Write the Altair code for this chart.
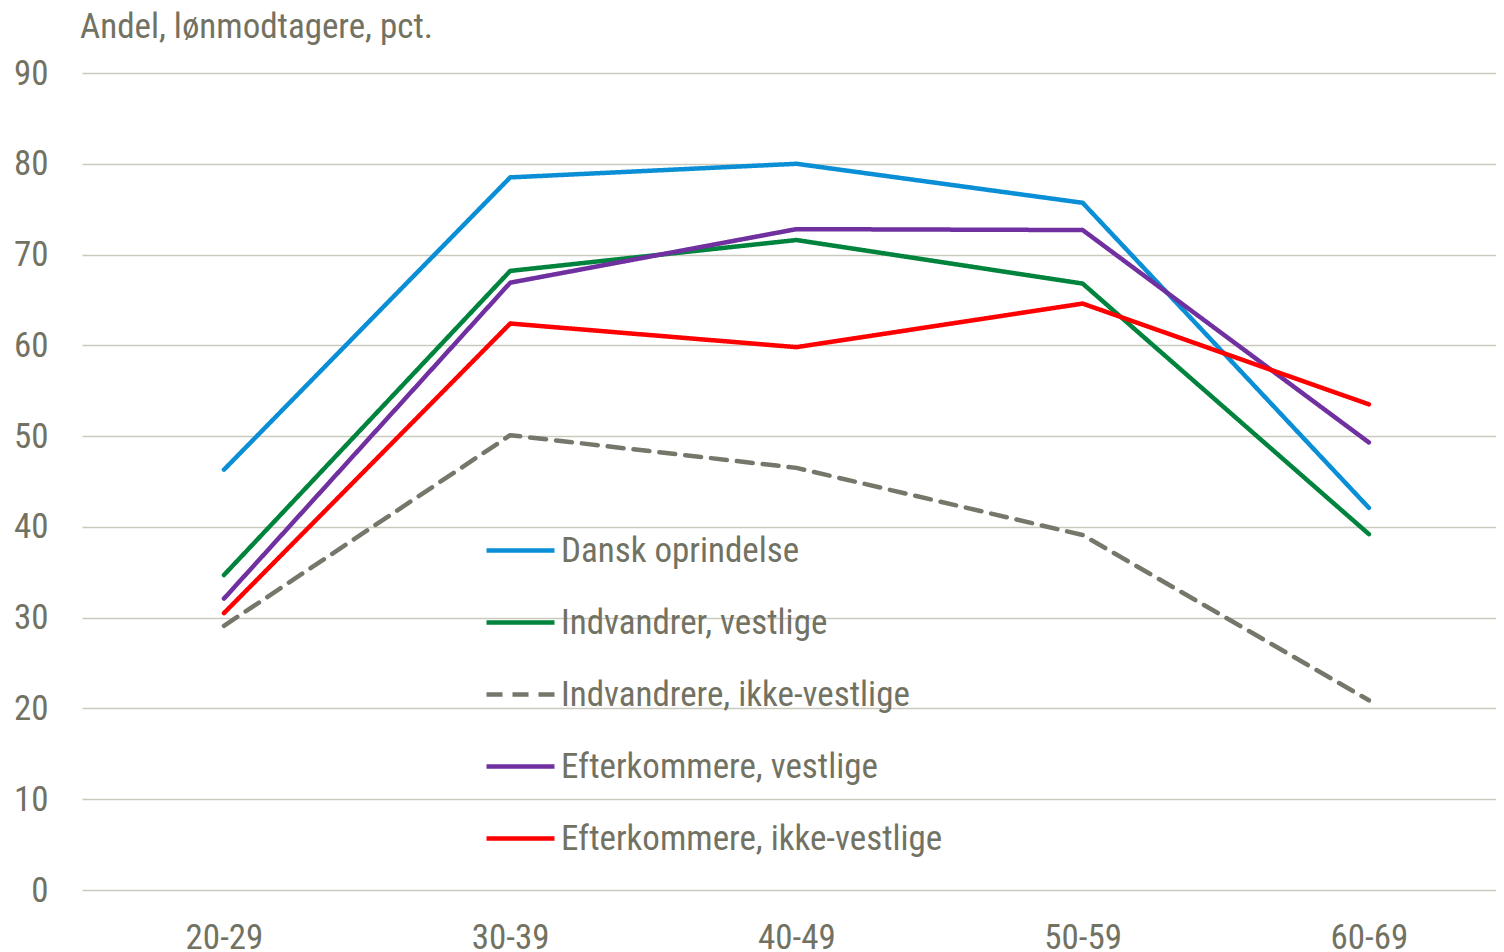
import altair as alt
import pandas as pd

ages = ["20-29", "30-39", "40-49", "50-59", "60-69"]
series = ["Dansk oprindelse", "Indvandrer, vestlige", "Indvandrere, ikke-vestlige",
          "Efterkommere, vestlige", "Efterkommere, ikke-vestlige"]
dansk = [46.3, 78.5, 80.0, 75.7, 42.1]
indv_vest = [34.7, 68.2, 71.6, 66.8, 39.2]
indv_ikke = [29.1, 50.1, 46.5, 39.1, 20.9]
efter_vest = [32.1, 66.9, 72.8, 72.7, 49.3]
efter_ikke = [30.5, 62.4, 59.8, 64.6, 53.5]
colors = ["#0a8fd6", "#00843d", "#77766a", "#7030a0", "#ff0000"]
dashes = [[1, 0], [1, 0], [16, 10], [1, 0], [1, 0]]

rows = []
for name, vals in zip(series, [dansk, indv_vest, indv_ikke, efter_vest, efter_ikke]):
    for i, (a, v) in enumerate(zip(ages, vals)):
        rows.append({"Alder": a, "idx": i, "Gruppe": name, "Andel": v})
df = pd.DataFrame(rows)

FONT = "Liberation Sans Narrow, Arial Narrow, Roboto Condensed, sans-serif"
TXT = "#727263"
label_expr = "[" + ",".join("'%s'" % a for a in ages) + "][datum.value]"

chart = alt.Chart(df).mark_line(strokeWidth=4.5, strokeCap="round", strokeJoin="round").encode(
    x=alt.X("idx:Q", title=None,
            scale=alt.Scale(domain=[-0.496, 4.444], nice=False, zero=False),
            axis=alt.Axis(values=list(range(len(ages))), labelExpr=label_expr,
                          labelAngle=0, ticks=False, domain=False, grid=False,
                          labelPadding=30, labelFontSize=35, labelColor=TXT, labelFont=FONT)),
    y=alt.Y("Andel:Q", title=None,
            scale=alt.Scale(domain=[0, 90], nice=False),
            axis=alt.Axis(values=list(range(0, 100, 10)), ticks=False, domain=False,
                          grid=True, gridColor="#c9c9bd", gridWidth=1.3,
                          labelPadding=34, labelFontSize=35, labelColor=TXT, labelFont=FONT)),
    color=alt.Color("Gruppe:N", sort=series,
                    scale=alt.Scale(domain=series, range=colors),
                    legend=alt.Legend(title=None, orient="none", legendX=402, legendY=441,
                                      symbolType="stroke", symbolSize=4624, symbolStrokeWidth=4.5,
                                      labelFontSize=35, labelColor=TXT, labelFont=FONT,
                                      labelOffset=4, rowPadding=17, labelLimit=600)),
    strokeDash=alt.StrokeDash("Gruppe:N", sort=series,
                              scale=alt.Scale(domain=series, range=dashes),
                              legend=alt.Legend(title=None)),
    detail="Gruppe:N",
).properties(
    width=1414, height=817,
    title=alt.TitleParams("Andel, lønmodtagere, pct.", anchor="start", frame="group",
                          fontSize=35, font=FONT, color=TXT, fontWeight="normal",
                          offset=11, dx=-2),
    autosize=alt.AutoSizeParams(type="none"),
    padding={"left": 74, "top": 65, "right": 0, "bottom": 60},
).configure_view(stroke=None)

chart.save("out.html", embed_options={"renderer": "svg", "actions": False})
